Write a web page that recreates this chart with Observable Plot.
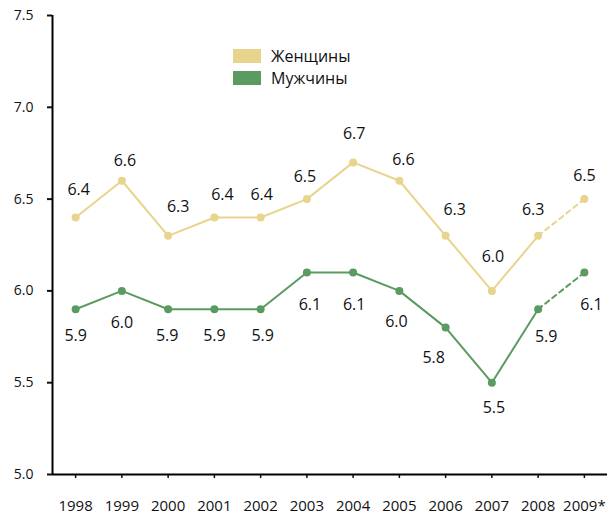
<!DOCTYPE html>
<html>
<head>
<meta charset="utf-8">
<script src="https://cdn.jsdelivr.net/npm/d3@7"></script>
<script src="https://cdn.jsdelivr.net/npm/@observablehq/plot@0.6"></script>
<style>
  html, body { margin: 0; padding: 0; background: #fff; }
  #wrap { position: relative; width: 607px; height: 516px; font-family: "Open Sans", sans-serif; }
  #legend { position: absolute; left: 233px; top: 45px; font-size: 16px; color: #111; }
  .item { display: flex; align-items: center; height: 22px; }
  .sw { width: 28px; height: 14px; margin-right: 10px; }
</style>
</head>
<body>
<div id="wrap"></div>
<script>
// ---- data ----
const years = [1998, 1999, 2000, 2001, 2002, 2003, 2004, 2005, 2006, 2007, 2008, 2009];
const yearLabels = ["1998", "1999", "2000", "2001", "2002", "2003", "2004", "2005", "2006", "2007", "2008", "2009*"];
const women = [6.4, 6.6, 6.3, 6.4, 6.4, 6.5, 6.7, 6.6, 6.3, 6.0, 6.3, 6.5];
const men = [5.9, 6.0, 5.9, 5.9, 5.9, 6.1, 6.1, 6.0, 5.8, 5.5, 5.9, 6.1];
const seriesNames = ["Женщины", "Мужчины"];
const yTicks = [5.0, 5.5, 6.0, 6.5, 7.0, 7.5];

// ---- layout: hand-placed label nudges (px) ----
const womenNudge = [[3,-28],[3,-20],[10,-29],[8,-23],[1,-23],[-2,-22],[1,-29],[4,-21],[9,-26],[1,-34],[-5,-26],[0,-23]];
const menNudge = [[0,27],[0,32],[-1,27],[0,27],[2,27],[3,32],[1,32],[-3,31],[-12,30],[2,25],[8,28],[7,32]];

const colW = "#e8d48c";
const colM = "#5b9a60";

const wRows = years.map((yr, i) => ({year: yr, v: women[i]}));
const mRows = years.map((yr, i) => ({year: yr, v: men[i]}));
const solid = rows => rows.filter(d => d.year <= 2008);
const dashed = rows => rows.filter(d => d.year >= 2008);
const fmt = d3.format(".1f");

const labelMarks = (rows, nudge) => rows.map((d, i) =>
  Plot.text([d], {x: "year", y: "v", text: r => fmt(r.v), dx: nudge[i][0], dy: nudge[i][1], fontSize: 16, fill: "#111"}));

const plot = Plot.plot({
  width: 607,
  height: 516,
  marginLeft: 52,
  marginRight: 0,
  marginTop: 15,
  marginBottom: 42,
  style: {fontFamily: "'Open Sans', sans-serif", fontSize: "15px", color: "#111"},
  x: {domain: [1997.5, 2009.5]},
  y: {domain: [5, 7.5]},
  marks: [
    Plot.axisY({ticks: yTicks, tickFormat: fmt, tickSize: 5, tickPadding: 14, strokeWidth: 2, fontSize: 14, label: null}),
    Plot.axisX({ticks: years, tickFormat: d => yearLabels[years.indexOf(d)], tickSize: 4, tickPadding: 22, strokeWidth: 1.5, fontSize: 15, label: null}),
    Plot.ruleY([5], {stroke: "#000", strokeWidth: 2}),
    Plot.ruleX([1997.5], {y1: 5, y2: 7.5, stroke: "#000", strokeWidth: 2}),
    Plot.line(solid(wRows), {x: "year", y: "v", stroke: colW, strokeWidth: 2}),
    Plot.line(dashed(wRows), {x: "year", y: "v", stroke: colW, strokeWidth: 2, strokeDasharray: "5,4"}),
    Plot.line(solid(mRows), {x: "year", y: "v", stroke: colM, strokeWidth: 2}),
    Plot.line(dashed(mRows), {x: "year", y: "v", stroke: colM, strokeWidth: 2, strokeDasharray: "5,4"}),
    Plot.dot(wRows, {x: "year", y: "v", r: 4, fill: colW}),
    Plot.dot(mRows, {x: "year", y: "v", r: 4, fill: colM}),
    ...labelMarks(wRows, womenNudge),
    ...labelMarks(mRows, menNudge)
  ]
});

const wrap = document.getElementById("wrap");
wrap.appendChild(plot);
const legend = document.createElement("div");
legend.id = "legend";
[[seriesNames[0], colW], [seriesNames[1], colM]].forEach(([name, c]) => {
  const it = document.createElement("div");
  it.className = "item";
  const sw = document.createElement("div");
  sw.className = "sw";
  sw.style.background = c;
  const t = document.createElement("span");
  t.textContent = name;
  it.appendChild(sw);
  it.appendChild(t);
  legend.appendChild(it);
});
wrap.appendChild(legend);
</script>
</body>
</html>
